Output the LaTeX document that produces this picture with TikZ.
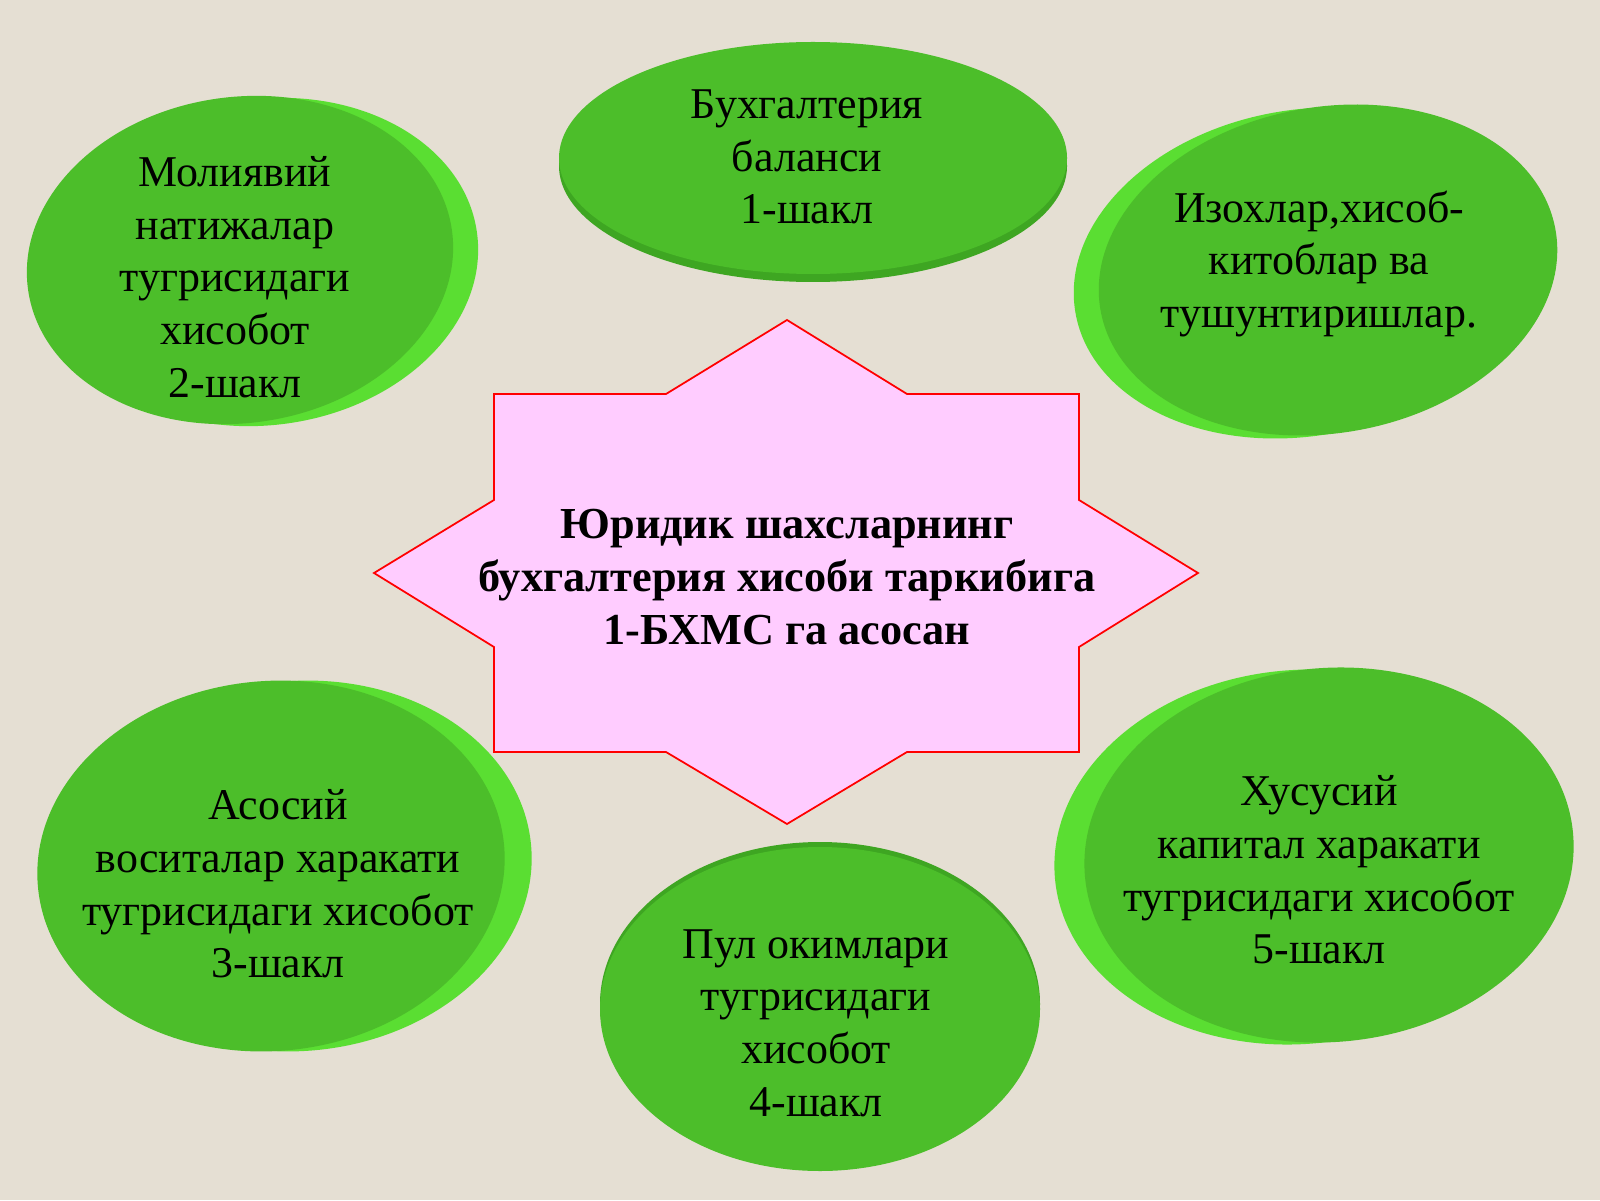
\documentclass[tikz,border=0pt]{standalone}
\usepackage{fontspec}
\setmainfont{Liberation Serif}
\usepackage{tikz}
\definecolor{paper}{RGB}{229,223,211}
\definecolor{discgreen}{RGB}{76,190,42}
\definecolor{shinegreen}{RGB}{90,222,50}
\definecolor{rimgreen}{RGB}{62,166,34}
\definecolor{starpink}{RGB}{255,204,255}
\tikzset{
    disc/.style={fill=discgreen},
    shine/.style={fill=shinegreen},
    rim/.style={fill=rimgreen}
}
\tikzset{
    caption/.style={align=center, text=black,
    	font=\fontsize{12.5}{15}\selectfont}
}
\tikzset{
	starshape/.style={fill=starpink, draw=red, line width=.5pt, line join=miter}
}

\begin{document}
\begin{tikzpicture}
  \fill[paper] (0cm, 0cm) rectangle (16cm, 12cm);

  % green discs
  \fill[shine, rotate around={8:(2.65,9.38)}] (2.65cm, 9.38cm) ellipse (2.14cm and 1.63cm);
  \fill[disc, rotate around={8:(2.40,9.40)}] (2.40cm, 9.40cm) ellipse (2.14cm and 1.63cm);
  \fill[rim] (8.13cm, 10.34cm) ellipse (2.54cm and 1.16cm);
  \fill[disc] (8.13cm, 10.42cm) ellipse (2.54cm and 1.16cm);
  \fill[shine, rotate around={10:(13.03,9.27)}] (13.03cm, 9.27cm) ellipse (2.31cm and 1.63cm);
  \fill[disc, rotate around={10:(13.28,9.30)}] (13.28cm, 9.30cm) ellipse (2.31cm and 1.63cm);
  \fill[shine, rotate around={5:(2.98,3.34)}] (2.98cm, 3.34cm) ellipse (2.34cm and 1.85cm);
  \fill[disc, rotate around={5:(2.71,3.34)}] (2.71cm, 3.34cm) ellipse (2.34cm and 1.85cm);
  \fill[rim] (8.20cm, 1.96cm) ellipse (2.20cm and 1.62cm);
  \fill[disc] (8.20cm, 1.91cm) ellipse (2.20cm and 1.62cm);
  \fill[shine, rotate around={5:(12.99,3.43)}] (12.99cm, 3.43cm) ellipse (2.45cm and 1.87cm);
  \fill[disc, rotate around={5:(13.29,3.45)}] (13.29cm, 3.45cm) ellipse (2.45cm and 1.87cm);

  % central star
  \draw[starshape] (7.87cm, 8.80cm) -- (9.07cm, 8.06cm) -- (10.79cm, 8.06cm) -- (10.79cm, 7.00cm)
    -- (11.98cm, 6.27cm) -- (10.79cm, 5.53cm) -- (10.79cm, 4.48cm) -- (9.07cm, 4.48cm)
    -- (7.87cm, 3.76cm) -- (6.66cm, 4.48cm) -- (4.94cm, 4.48cm) -- (4.94cm, 5.53cm)
    -- (3.74cm, 6.27cm) -- (4.94cm, 7.00cm) -- (4.94cm, 8.06cm) -- (6.66cm, 8.06cm) -- cycle;

  \node (markaz) [caption, font=\bfseries\fontsize{12.6}{15}\selectfont] at (7.87cm, 6.23cm)
    {Юридик шахсларнинг\\бухгалтерия хисоби таркибига\\1-БХМС га асосан};
  \node (molia) [caption] at (2.35cm, 9.23cm) {Молиявий\\натижалар\\тугрисидаги\\хисобот\\2-шакл};
  \node (balans) [caption] at (8.07cm, 10.43cm) {Бухгалтерия\\баланси\\1-шакл};
  \node (izoh) [caption] at (13.19cm, 9.36cm) {Изохлар,хисоб-\\китоблар ва\\тушунтиришлар.};
  \node (asosiy) [caption] at (2.78cm, 3.16cm) {Асосий\\воситалар харакати\\тугрисидаги хисобот\\3-шакл};
  \node (pul) [caption] at (8.16cm, 1.77cm) {Пул окимлари\\тугрисидаги\\хисобот\\4-шакл};
  \node (xusus) [caption] at (13.19cm, 3.30cm) {Хусусий\\капитал харакати\\тугрисидаги хисобот\\5-шакл};
\end{tikzpicture}
\end{document}
